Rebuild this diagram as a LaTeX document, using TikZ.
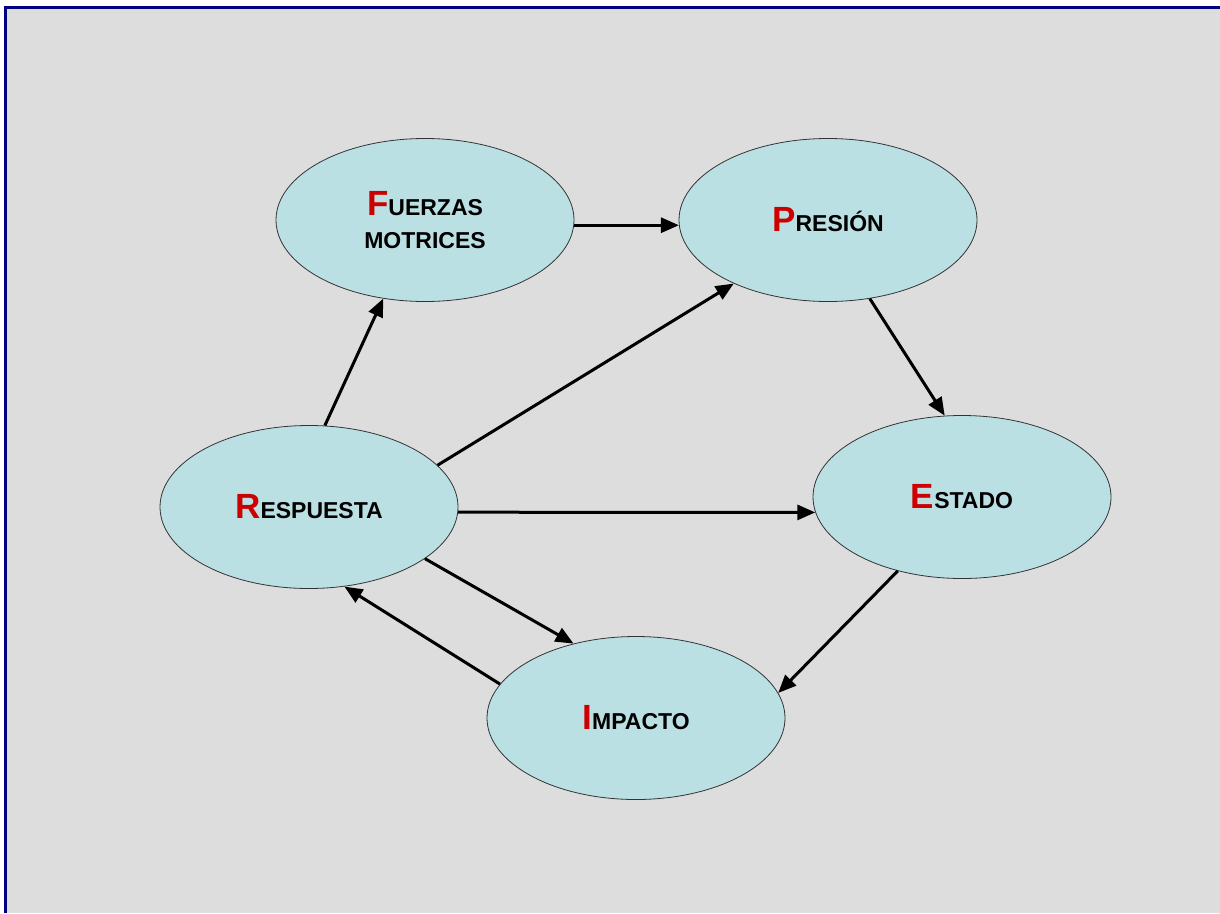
\documentclass[tikz,border=0pt]{standalone}
\usepackage{fontspec}
\setmainfont{Liberation Sans}
\usetikzlibrary{shapes.geometric,arrows.meta}
\definecolor{panelgray}{HTML}{DDDDDD}
\definecolor{framenavy}{HTML}{000080}
\definecolor{bubble}{HTML}{BBE0E4}
\definecolor{initial}{HTML}{CC0000}
\newcommand{\bigini}[1]{{\color{initial}\fontsize{35}{35}\selectfont #1}}
\newcommand{\smallrest}[1]{{\fontsize{23}{23}\selectfont #1}}
\begin{document}
\begin{tikzpicture}[x=1pt,y=-1pt,
  stage/.style={ellipse, draw=black!80, line width=0.8pt, fill=bubble,
    minimum width=298pt, minimum height=163pt, inner sep=0pt,
    font=\bfseries, align=center},
  link/.style={line width=3pt, -{Triangle[length=18pt,width=15pt]}}]
  % page and frame
  \useasboundingbox (0,0) rectangle (1220,913);
  \fill[white] (0,0) rectangle (1220,913);
  \fill[panelgray] (5,7.5) rectangle (1220,913);
  \draw[framenavy, line width=3pt] (5,913) -- (5,7.5) -- (1220,7.5);

  % stages
  \node[stage] (F) at (425,220) {\bigini{F}\smallrest{UERZAS}\\[16pt]\smallrest{MOTRICES}};
  \node[stage] (P) at (828,220) {\bigini{P}\smallrest{RESIÓN}};
  \node[stage] (R) at (309,507) {\bigini{R}\smallrest{ESPUESTA}};
  \node[stage] (E) at (962,497) {\bigini{E}\smallrest{STADO}};
  \node[stage] (I) at (636,718) {\bigini{I}\smallrest{MPACTO}};

  % links
  \draw[link] (F.-2) -- (P.182);
  \draw[link] (P.-62) -- (E.102);
  \draw[link] (R.79) -- (F.242);
  \draw[link] (R.18.7) -- (P.214.7);
  \draw[link] (R.-2.3) -- (E.186);
  \draw[link] (R.-24.6) -- (I.130.3);
  \draw[link] (I.166.6) -- (R.-66.9);
  \draw[link] (E.229.2) -- (I.10);
\end{tikzpicture}
\end{document}
